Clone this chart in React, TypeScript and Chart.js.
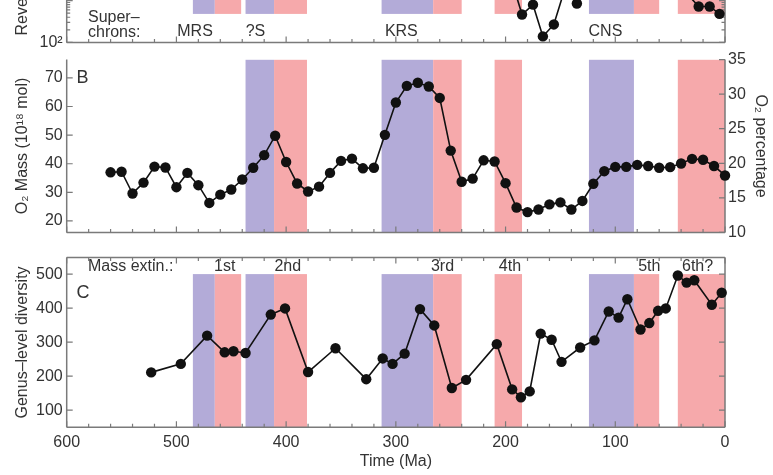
import React, { useEffect, useRef } from "react";
import { Chart, registerables } from "chart.js";
Chart.register(...registerables);

const FONT = "'Liberation Sans', Arial, Helvetica, sans-serif";
const TEXT = "#333333";
const FRAME = "#7a7a7a";
const PURPLE = "#b3abd8";
const PINK = "#f6a9ab";
const DOT = "#111111";

// ---- Panel A: reversal record (only lower part visible) ----
const revAges = [195, 185, 175, 166, 156, 146, 135, 125, 34, 24, 14, 5];
const revValues = [3365, 464, 800, 139, 269, 1892, 853, 19000, 1406, 724, 724, 481];

// ---- Panel B: O2 mass (10^18 mol) ----
const o2Ages = [560, 550, 540, 530, 520, 510, 500, 490, 480, 470, 460, 450, 440, 430, 420, 410, 400, 390, 380, 370, 360, 350, 340, 330, 320, 310, 300, 290, 280, 270, 260, 250, 240, 230, 220, 210, 200, 190, 180, 170, 160, 150, 140, 130, 120, 110, 100, 90, 80, 70, 60, 50, 40, 30, 20, 10, 0];
const o2Mass = [37.0, 37.2, 29.6, 33.4, 39.0, 38.7, 31.8, 36.8, 32.5, 26.3, 29.2, 31.0, 34.5, 38.6, 43.0, 49.8, 40.6, 33.1, 30.3, 32.0, 36.8, 41.0, 41.8, 38.4, 38.6, 50.1, 61.4, 67.2, 68.3, 67.0, 63.0, 44.6, 33.7, 34.8, 41.2, 40.8, 33.2, 24.7, 23.1, 24.0, 25.8, 26.5, 24.0, 27.0, 33.0, 37.4, 38.9, 38.9, 39.6, 39.2, 38.6, 38.8, 40.1, 41.7, 41.4, 39.2, 35.9];

// ---- Panel C: genus-level diversity ----
const divAges = [523, 496, 472, 456, 448, 437, 414, 401, 380, 355, 327, 312, 303, 292, 278, 265, 249, 236, 208, 194, 186, 178, 168, 158, 149, 132, 119, 106, 97, 89, 77, 69, 61, 54, 43, 35, 28, 12, 3];
const divValues = [211, 236, 319, 270, 273, 268, 381, 399, 212, 282, 191, 252, 236, 266, 397, 349, 165, 189, 294, 161, 138, 155, 325, 307, 242, 284, 305, 390, 372, 426, 337, 356, 392, 399, 496, 475, 482, 410, 445];

// ---- shaded intervals (Ma) ----
const bandStart = [485, 465, 437, 411, 313, 266, 210, 124, 83, 43];
const bandEnd = [465, 441, 411, 381, 266, 240, 185, 83, 60, 0];
const bandType = ["rev", "ext", "rev", "ext", "rev", "ext", "ext", "rev", "ext", "ext"];
const bandInB = [false, false, true, true, true, true, true, true, false, true];

const superchronNames = ["MRS", "?S", "KRS", "CNS"];
const superchronAges = [483, 428, 295, 109];
const extinctionNames = ["1st", "2nd", "3rd", "4th", "5th", "6th?"];
const extinctionAges = [456, 398.5, 257.5, 196, 69, 25];

// ---- tick labels ----
const xTickValues = [600, 500, 400, 300, 200, 100, 0];
const massTicks = [20, 30, 40, 50, 60, 70];
const pctTicks = [10, 15, 20, 25, 30, 35];
const divTicks = [100, 200, 300, 400, 500];

type Label = { text: string; x: number; y: number; align?: CanvasTextAlign; size?: number; scale?: string };

function bandsPlugin(id: string, sel: boolean[], yMin?: number, yMax?: number) {
  return {
    id,
    beforeDatasetsDraw(chart: any) {
      const { ctx, chartArea: a } = chart;
      const xs = chart.scales.x;
      const ys = chart.scales.y;
      ctx.save();
      ctx.beginPath();
      ctx.rect(a.left, a.top, a.right - a.left, a.bottom - a.top);
      ctx.clip();
      bandStart.forEach((s, i) => {
        if (!sel[i]) return;
        const x0 = xs.getPixelForValue(s);
        const x1 = xs.getPixelForValue(bandEnd[i]);
        const y0 = yMin == null ? a.bottom : ys.getPixelForValue(yMin);
        const y1 = yMax == null ? a.top : ys.getPixelForValue(yMax);
        ctx.fillStyle = bandType[i] === "rev" ? PURPLE : PINK;
        ctx.fillRect(Math.min(x0, x1), Math.min(y0, y1), Math.abs(x1 - x0), Math.abs(y1 - y0));
      });
      ctx.restore();
    },
  };
}

type Edges = { top?: boolean; right?: boolean; bottom?: boolean; left?: boolean; mirrorX?: boolean; mirrorY?: boolean };

function framePlugin(id: string, e: Edges) {
  return {
    id,
    beforeDatasetsDraw(chart: any) {
      const { ctx, chartArea: a } = chart;
      ctx.save();
      ctx.strokeStyle = FRAME;
      ctx.lineWidth = 1.5;
      ctx.beginPath();
      if (e.left) { ctx.moveTo(a.left, a.top); ctx.lineTo(a.left, a.bottom); }
      if (e.right) { ctx.moveTo(a.right, a.top); ctx.lineTo(a.right, a.bottom); }
      if (e.bottom) { ctx.moveTo(a.left, a.bottom); ctx.lineTo(a.right, a.bottom); }
      if (e.top) { ctx.moveTo(a.left, a.top); ctx.lineTo(a.right, a.top); }
      ctx.stroke();
      ctx.lineWidth = 1.2;
      ctx.beginPath();
      const xs = chart.scales.x;
      xs.ticks.forEach((t: any) => {
        const px = xs.getPixelForValue(t.value);
        const len = t.value % 100 === 0 ? 6 : 3.5;
        if (e.bottom) { ctx.moveTo(px, a.bottom); ctx.lineTo(px, a.bottom - len); }
        if (e.mirrorX) { ctx.moveTo(px, a.top); ctx.lineTo(px, a.top + len); }
      });
      Object.values(chart.scales).forEach((s: any) => {
        if (s.axis !== "y") return;
        const isLog = s.type === "logarithmic";
        s.ticks.forEach((t: any) => {
          const py = s.getPixelForValue(t.value);
          if (py < a.top - 0.5 || py > a.bottom + 0.5) return;
          let major = true;
          if (isLog) {
            const l = Math.log10(t.value);
            major = Math.abs(l - Math.round(l)) < 1e-6;
          }
          const len = major ? 6 : 3.5;
          if (s.position === "left") {
            ctx.moveTo(a.left, py); ctx.lineTo(a.left + len, py);
            if (e.mirrorY) { ctx.moveTo(a.right, py); ctx.lineTo(a.right - len, py); }
          } else {
            ctx.moveTo(a.right, py); ctx.lineTo(a.right - len, py);
          }
        });
      });
      ctx.stroke();
      ctx.restore();
    },
  };
}

function labelsPlugin(id: string, items: Label[]) {
  return {
    id,
    afterDatasetsDraw(chart: any) {
      const { ctx } = chart;
      const xs = chart.scales.x;
      ctx.save();
      ctx.fillStyle = TEXT;
      ctx.textBaseline = "middle";
      items.forEach((it) => {
        const ys = chart.scales[it.scale || "y"];
        ctx.font = `${it.size || 16}px ${FONT}`;
        ctx.textAlign = it.align || "center";
        ctx.fillText(it.text, xs.getPixelForValue(it.x), ys.getPixelForValue(it.y));
      });
      ctx.restore();
    },
  };
}

const tickFont = { family: FONT, size: 16 };
const titleFont = { family: FONT, size: 16 };
const LEFT_W = 66.7;
const RIGHT_W = 48;

function fixedTicks(values: number[]) {
  return (s: any) => {
    s.ticks = values.map((v) => ({ value: v }));
  };
}

function xScale(show: boolean, h: number) {
  return {
    type: "linear",
    reverse: true,
    min: 0,
    max: 600,
    grid: { display: false, drawTicks: false },
    border: { display: false },
    ticks: {
      display: show,
      stepSize: 20,
      autoSkip: false,
      maxRotation: 0,
      padding: 6,
      color: TEXT,
      font: tickFont,
      callback: (v: number) => (xTickValues.includes(v) ? String(v) : ""),
    },
    title: show
      ? { display: true, text: "Time (Ma)", color: TEXT, font: titleFont, padding: { top: 0, bottom: 3.7 } }
      : { display: false },
    afterFit: (s: any) => { s.height = h; },
  };
}

function lineDataset(ages: number[], vals: number[]) {
  return {
    data: ages.map((a, i) => ({ x: a, y: vals[i] })),
    borderColor: DOT,
    borderWidth: 1.6,
    pointRadius: 5.2,
    pointBackgroundColor: DOT,
    pointBorderColor: DOT,
    pointBorderWidth: 0,
    tension: 0,
    clip: false as any,
  };
}

const common = {
  responsive: false,
  maintainAspectRatio: false,
  animation: false,
  devicePixelRatio: 1,
  events: [] as any[],
  plugins: { legend: { display: false }, tooltip: { enabled: false } },
};

export default function App() {
  const refA = useRef<HTMLCanvasElement>(null);
  const refB = useRef<HTMLCanvasElement>(null);
  const refC = useRef<HTMLCanvasElement>(null);

  useEffect(() => {
    const charts: Chart[] = [];

    // Panel A
    charts.push(
      new Chart(refA.current as HTMLCanvasElement, {
        type: "line",
        data: { datasets: [lineDataset(revAges, revValues) as any] },
        options: {
          ...common,
          layout: { padding: { top: 5, right: RIGHT_W, bottom: 0, left: 0 } },
          scales: {
            x: xScale(false, 10) as any,
            y: {
              type: "logarithmic",
              min: 100,
              max: 40000,
              grid: { display: false, drawTicks: false },
              border: { display: false },
              ticks: {
                autoSkip: false,
                padding: 4,
                color: TEXT,
                font: tickFont,
                callback: (v: number) => (v === 100 ? "10²" : ""),
              },
              title: { display: true, text: "Reversal rate", color: TEXT, font: titleFont, padding: { top: 13, bottom: 0 } },
              afterFit: (s: any) => { s.width = LEFT_W; },
            } as any,
          },
        } as any,
        plugins: [
          bandsPlugin("bandsA", bandStart.map(() => true), 480, 40000),
          framePlugin("frameA", { left: true, right: true, bottom: true, mirrorY: true }),
          labelsPlugin("labelsA", [
            { text: "Super–", x: 580.6, y: 400, align: "left" },
            { text: "chrons:", x: 580.6, y: 172, align: "left" },
            ...superchronNames.map((n, i) => ({ text: n, x: superchronAges[i], y: 181 })),
          ]),
        ] as any,
      })
    );

    // Panel B
    charts.push(
      new Chart(refB.current as HTMLCanvasElement, {
        type: "line",
        data: { datasets: [lineDataset(o2Ages, o2Mass) as any] },
        options: {
          ...common,
          layout: { padding: { top: 10, right: 0, bottom: 0, left: 0 } },
          scales: {
            x: xScale(false, 10) as any,
            y: {
              type: "linear",
              position: "left",
              min: 16,
              max: 76.4,
              grid: { display: false, drawTicks: false },
              border: { display: false },
              ticks: { padding: 4, color: TEXT, font: tickFont },
              afterBuildTicks: fixedTicks(massTicks),
              title: { display: true, text: "O₂ Mass (10¹⁸ mol)", color: TEXT, font: titleFont, padding: { top: 13, bottom: 0 } },
              afterFit: (s: any) => { s.width = LEFT_W; },
            } as any,
            y2: {
              type: "linear",
              position: "right",
              min: 10,
              max: 35,
              grid: { display: false, drawTicks: false },
              border: { display: false },
              ticks: { padding: 3, color: TEXT, font: tickFont },
              afterBuildTicks: fixedTicks(pctTicks),
              title: { display: true, text: "O₂ percentage", color: TEXT, font: titleFont, padding: { top: 3.4, bottom: 0 } },
              afterFit: (s: any) => { s.width = RIGHT_W; },
            } as any,
          },
        } as any,
        plugins: [
          bandsPlugin("bandsB", bandInB),
          framePlugin("frameB", { left: true, right: true, bottom: true }),
          labelsPlugin("labelsB", [{ text: "B", x: 591, y: 70, align: "left", size: 18 }]),
        ] as any,
      })
    );

    // Panel C
    charts.push(
      new Chart(refC.current as HTMLCanvasElement, {
        type: "line",
        data: { datasets: [lineDataset(divAges, divValues) as any] },
        options: {
          ...common,
          layout: { padding: { top: 2.7, right: RIGHT_W, bottom: 0, left: 0 } },
          scales: {
            x: xScale(true, 47.7) as any,
            y: {
              type: "linear",
              position: "left",
              min: 49.5,
              max: 548.5,
              grid: { display: false, drawTicks: false },
              border: { display: false },
              ticks: { padding: 4, color: TEXT, font: tickFont },
              afterBuildTicks: fixedTicks(divTicks),
              title: { display: true, text: "Genus–level diversity", color: TEXT, font: titleFont, padding: { top: 13, bottom: 0 } },
              afterFit: (s: any) => { s.width = LEFT_W; },
            } as any,
          },
        } as any,
        plugins: [
          bandsPlugin("bandsC", bandStart.map(() => true), 49.5, 500),
          framePlugin("frameC", { left: true, right: true, bottom: true, top: true, mirrorX: true, mirrorY: true }),
          labelsPlugin("labelsC", [
            { text: "C", x: 591, y: 443, align: "left", size: 18 },
            { text: "Mass extin.:", x: 580.6, y: 521, align: "left" },
            ...extinctionNames.map((n, i) => ({ text: n, x: extinctionAges[i], y: 521 })),
          ]),
        ] as any,
      })
    );

    return () => charts.forEach((c) => c.destroy());
  }, []);

  return (
    <div style={{ position: "absolute", left: 0, top: 0, width: 773, height: 475, overflow: "hidden", background: "#fff" }}>
      <canvas ref={refA} width={773} height={136} style={{ position: "absolute", left: 0, top: -80 }} />
      <canvas ref={refB} width={773} height={200} style={{ position: "absolute", left: 0, top: 46 }} />
      <canvas ref={refC} width={773} height={231} style={{ position: "absolute", left: 0, top: 244 }} />
    </div>
  );
}
